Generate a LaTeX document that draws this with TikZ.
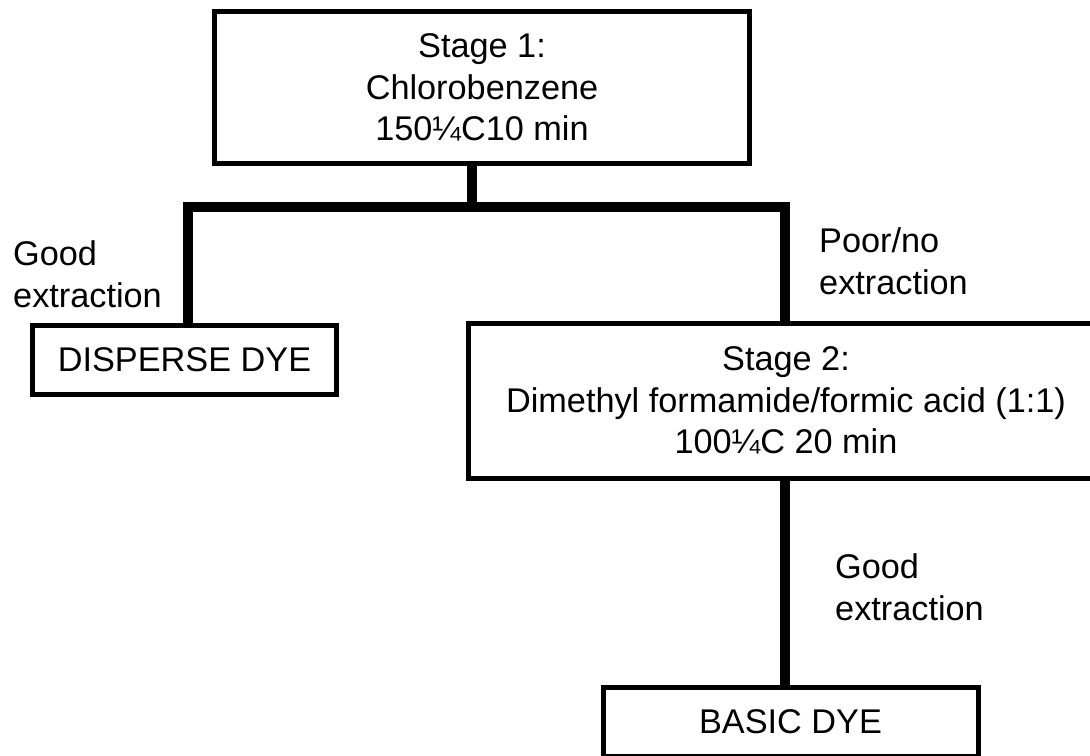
\documentclass[tikz,border=0pt]{standalone}
\usepackage{fontspec}
\setmainfont{Liberation Sans}
\usepackage{tikz}

\begin{document}
\begin{tikzpicture}[x=1bp,y=-1bp,
    box/.style={draw,line width=5bp,align=center,inner sep=0pt,
      font=\fontsize{34.4}{41.5}\selectfont},
    link/.style={line width=10bp,line join=miter},
    note/.style={align=left,inner sep=0pt,anchor=north west,
      font=\fontsize{34.4}{42.5}\selectfont}]
      \useasboundingbox (0,0) rectangle (1090,756);

      \node [box,minimum width=534bp,minimum height=151bp] (s1) at (482,87.5)
        {Stage 1:\\Chlorobenzene\\150¼C10 min};
      \node [box,minimum width=303bp,minimum height=69bp] (disp) at (184.5,359.5)
        {DISPERSE DYE};
      \node [box,minimum width=636bp,minimum height=155bp] (s2) at (786,400.5)
        {Stage 2:\\Dimethyl formamide/formic acid (1:1)\\100¼C 20 min};
      \node [box,minimum width=375bp,minimum height=69bp] (basic) at (790.5,721.5)
        {BASIC DYE};

      \coordinate (fork) at (472,207);
      \coordinate (lfork) at (188,207);
      \coordinate (rfork) at (785,207);

      \draw[link] (s1.south -| fork) -- (fork);
      \draw[link] (disp.north -| lfork) -- (lfork) -- (rfork) -- (s2.north -| rfork);
      \draw[link] (s2.south -| rfork) -- (basic.north -| rfork);

      \node [note] (good1) at (13,240) {Good\\extraction};
      \node [note] (poor) at (819,227) {Poor/no\\extraction};
      \node [note] (good2) at (835,553) {Good\\extraction};
    \end{tikzpicture}
\end{document}
